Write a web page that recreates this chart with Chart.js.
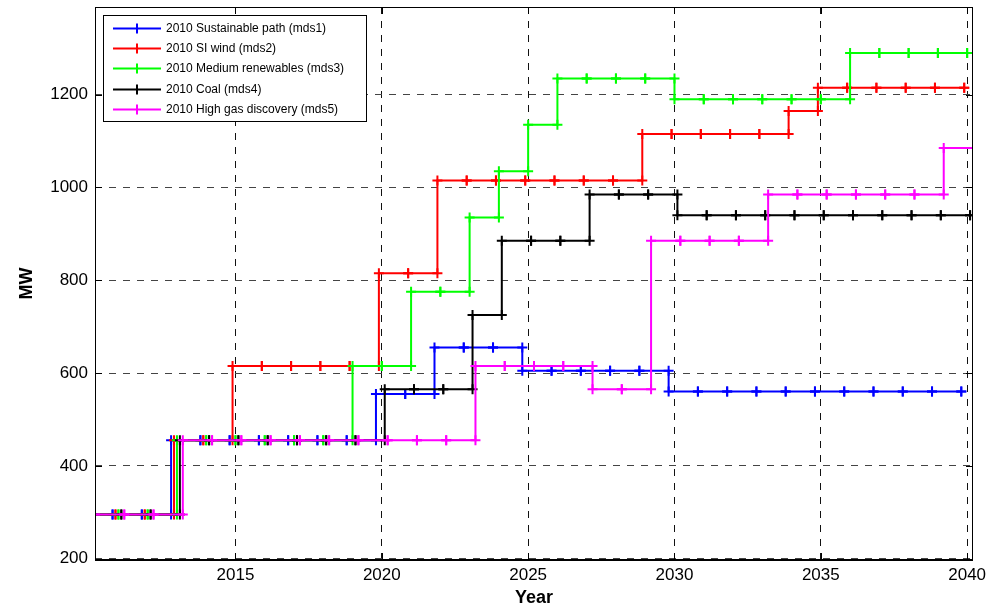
<!DOCTYPE html>
<html>
<head>
<meta charset="utf-8">
<title>MDS capacity by year</title>
<script src="https://cdn.jsdelivr.net/npm/chart.js@4"></script>
<style>
  html, body { margin: 0; background: #fff; }
  #wrap { width: 1008px; height: 612px; }
</style>
</head>
<body>
<div id="wrap"><canvas id="c"></canvas></div>
<script>
// ── DATA ────────────────────────────────────────────────────
const years = [2010, 2011, 2012, 2013, 2014, 2015, 2016, 2017, 2018, 2019,
               2020, 2021, 2022, 2023, 2024, 2025, 2026, 2027, 2028, 2029,
               2030, 2031, 2032, 2033, 2034, 2035, 2036, 2037, 2038, 2039, 2040];

const mds1 = [295, 295, 295, 455, 455, 455, 455, 455, 455, 455,
              555, 555, 655, 655, 655, 605, 605, 605, 605, 605,
              560, 560, 560, 560, 560, 560, 560, 560, 560, 560, 560];
const mds2 = [295, 295, 295, 455, 455, 615, 615, 615, 615, 615,
              815, 815, 1015, 1015, 1015, 1015, 1015, 1015, 1015, 1115,
              1115, 1115, 1115, 1115, 1165, 1215, 1215, 1215, 1215, 1215, 1215];
const mds3 = [295, 295, 295, 455, 455, 455, 455, 455, 455, 615,
              615, 775, 775, 935, 1035, 1135, 1235, 1235, 1235, 1235,
              1190, 1190, 1190, 1190, 1190, 1190, 1290, 1290, 1290, 1290, 1290];
const mds4 = [295, 295, 295, 455, 455, 455, 455, 455, 455, 455,
              565, 565, 565, 725, 885, 885, 885, 985, 985, 985,
              940, 940, 940, 940, 940, 940, 940, 940, 940, 940, 940];
const mds5 = [295, 295, 295, 455, 455, 455, 455, 455, 455, 455,
              455, 455, 455, 615, 615, 615, 615, 565, 565, 885,
              885, 885, 885, 985, 985, 985, 985, 985, 985, 1085, 1085];

const seriesNames = ['2010 Sustainable path (mds1)', '2010 SI wind (mds2)',
                     '2010 Medium renewables (mds3)', '2010 Coal (mds4)',
                     '2010 High gas discovery (mds5)'];
const seriesValues = [mds1, mds2, mds3, mds4, mds5];
// each series is nudged along the year axis so the steps don't overlap
const yearShift = [-0.2, -0.1, 0, 0.1, 0.2];

const xTicks = [2015, 2020, 2025, 2030, 2035, 2040];
const yTicks = [200, 400, 600, 800, 1000, 1200];

// ── STYLE ───────────────────────────────────────────────────
const colors = ['#0000ff', '#ff0000', '#00ff00', '#000000', '#ff00ff'];
const FONT = "'Liberation Sans', Arial, Helvetica, sans-serif";

// stairs vertices: marker at both ends of every riser
function stairs(vals, shift) {
  const pts = [{ x: years[0] + shift, y: vals[0] }];
  for (let i = 1; i < years.length; i++) {
    pts.push({ x: years[i] + shift, y: vals[i - 1] });
    pts.push({ x: years[i] + shift, y: vals[i] });
  }
  return pts;
}

const datasets = seriesValues.map((vals, i) => ({
  label: seriesNames[i],
  data: stairs(vals, yearShift[i]),
  borderColor: colors[i],
  backgroundColor: colors[i],
  borderWidth: 2,
  pointStyle: 'cross',
  pointRadius: 5,
  pointBorderWidth: 2,
  pointBorderColor: colors[i],
  tension: 0,
  fill: false,
  order: seriesValues.length - i   // later series painted on top
}));

// ── PLUGINS ─────────────────────────────────────────────────
const frame = {
  id: 'frame',
  afterDatasetsDraw(chart) {
    const { ctx, chartArea: a, scales } = chart;
    ctx.save();
    ctx.strokeStyle = '#000';
    ctx.lineWidth = 1;
    ctx.beginPath();
    xTicks.forEach(v => {
      const px = Math.round(scales.x.getPixelForValue(v)) + 0.5;
      ctx.moveTo(px, a.bottom); ctx.lineTo(px, a.bottom - 7);
      ctx.moveTo(px, a.top); ctx.lineTo(px, a.top + 7);
    });
    yTicks.forEach(v => {
      const py = Math.round(scales.y.getPixelForValue(v)) + 0.5;
      ctx.moveTo(a.left, py); ctx.lineTo(a.left + 7, py);
      ctx.moveTo(a.right, py); ctx.lineTo(a.right - 7, py);
    });
    ctx.stroke();
    ctx.strokeRect(a.left + 0.5, a.top + 0.5, a.right - a.left - 1, a.bottom - a.top - 1);
    ctx.lineWidth = 2;
    ctx.beginPath();
    ctx.moveTo(a.left, a.bottom); ctx.lineTo(a.right, a.bottom);
    ctx.stroke();
    ctx.restore();
  }
};

const boxLegend = {
  id: 'boxLegend',
  afterDraw(chart) {
    const { ctx, chartArea: a } = chart;
    const x0 = a.left + 8, y0 = a.top + 8, w = 263, h = 106;
    ctx.save();
    ctx.fillStyle = '#fff';
    ctx.fillRect(x0, y0, w, h);
    ctx.strokeStyle = '#000';
    ctx.lineWidth = 1;
    ctx.strokeRect(x0 + 0.5, y0 + 0.5, w, h);
    ctx.font = '12px ' + FONT;
    ctx.textBaseline = 'middle';
    chart.data.datasets.forEach((ds, i) => {
      const cy = Math.round(y0 + 13 + i * 20.2) + 0.5;
      ctx.strokeStyle = ds.borderColor;
      ctx.lineWidth = 2;
      ctx.beginPath();
      ctx.moveTo(x0 + 10, cy); ctx.lineTo(x0 + 58, cy);
      ctx.moveTo(x0 + 34, cy - 5); ctx.lineTo(x0 + 34, cy + 5);
      ctx.stroke();
      ctx.fillStyle = '#000';
      ctx.fillText(ds.label, x0 + 63, cy);
    });
    ctx.restore();
  }
};

// ── CHART ───────────────────────────────────────────────────
Chart.defaults.color = '#000';
Chart.defaults.font.family = FONT;

new Chart(document.getElementById('c'), {
  type: 'line',
  data: { datasets },
  plugins: [frame, boxLegend],
  options: {
    responsive: true,
    maintainAspectRatio: false,
    animation: false,
    events: [],
    layout: { padding: { top: 6, right: 35, bottom: 0, left: 0 } },
    plugins: { legend: { display: false }, tooltip: { enabled: false } },
    scales: {
      x: {
        type: 'linear',
        min: 2010.2,
        max: 2040.2,
        afterBuildTicks: s => { s.ticks = xTicks.map(v => ({ value: v })); },
        afterFit: s => { s.height = 52; s.paddingLeft = 0; s.paddingRight = 0; },
        ticks: { font: { size: 17 }, padding: 5, maxRotation: 0, callback: v => String(v) },
        grid: { color: '#111', lineWidth: 1, drawTicks: false },
        border: { display: false, dash: [7, 7] },
        title: { display: true, text: 'Year', font: { size: 18, weight: 'bold' }, padding: { top: 0, bottom: 3 } }
      },
      y: {
        min: 197,
        max: 1389,
        afterBuildTicks: s => { s.ticks = yTicks.map(v => ({ value: v })); },
        afterFit: s => { s.width = 95; s.paddingTop = 0; s.paddingBottom = 0; },
        ticks: { font: { size: 17 }, padding: 7, callback: v => String(v) },
        grid: { color: '#444', lineWidth: 1, drawTicks: false },
        border: { display: false, dash: [7, 7] },
        title: { display: true, text: 'MW', font: { size: 18, weight: 'bold' }, padding: { top: 16, bottom: 0 } }
      }
    }
  }
});
</script>
</body>
</html>
